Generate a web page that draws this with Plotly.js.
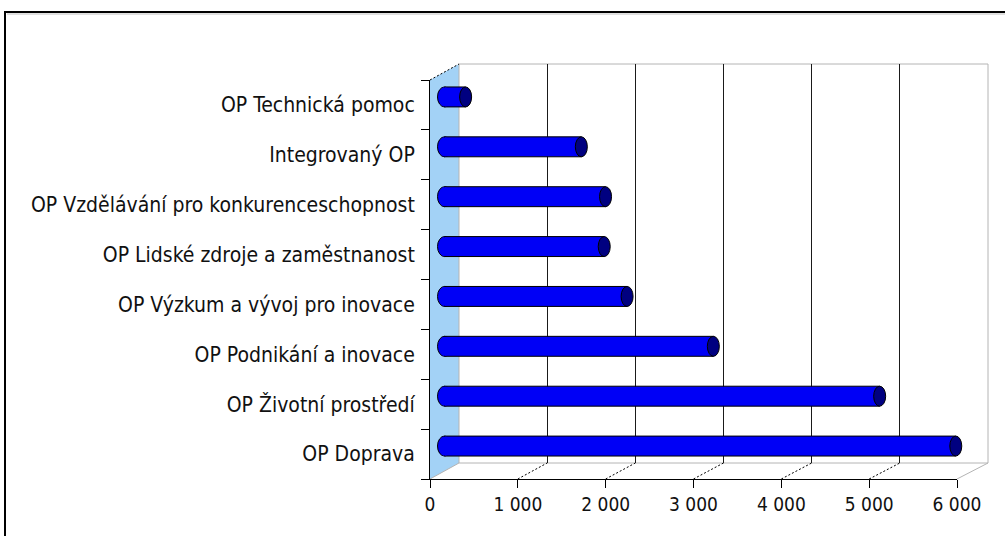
<!DOCTYPE html>
<html>
<head>
<meta charset="utf-8">
<script src="https://cdn.plot.ly/plotly-3.0.1.min.js"></script>
<style>
html,body{margin:0;padding:0;background:#fff;}
#chart{width:1005px;height:536px;}
</style>
</head>
<body>
<div id="chart"></div>
<script>
// ---- data (bottom to top, as drawn) ----
const programs = [
  "OP Doprava",
  "OP Životní prostředí",
  "OP Podnikání a inovace",
  "OP Výzkum a vývoj pro inovace",
  "OP Lidské zdroje a zaměstnanost",
  "OP Vzdělávání pro konkurenceschopnost",
  "Integrovaný OP",
  "OP Technická pomoc"
];
const allocation = [5810, 4945, 3055, 2075, 1815, 1830, 1555, 240];
const xTickVals = [0, 1000, 2000, 3000, 4000, 5000, 6000];
const xTickText = ["0", "1 000", "2 000", "3 000", "4 000", "5 000", "6 000"];
const gridVals = [1000, 2000, 3000, 4000, 5000];

// ---- geometry (pixels) ----
const W = 1005, H = 536;
const front = {l: 430, r: 957, t: 80, b: 479};
const back  = {l: 459, r: 988, t: 64, b: 463};
const mid   = {l: 444.5, r: 972.5, t: 72, b: 471};
const px = x => x / W;
const py = y => 1 - y / H;
const xMax = 6000;
const padPx = 14; // room left of zero so the rounded cylinder ends are not clipped
const padVal = padPx * xMax / (mid.r - mid.l);

const labelFont = {family: "'DejaVu Sans Condensed', 'DejaVu Sans', sans-serif", size: 21, color: "#111"};
const tickFont  = {family: "'DejaVu Sans Condensed', 'DejaVu Sans', sans-serif", size: 19, color: "#111"};

const traces = [
  {type: "scatter", x: [], y: [], xaxis: "x2", yaxis: "y2", showlegend: false, hoverinfo: "skip"},
  {type: "scatter", x: [], y: [], xaxis: "x", yaxis: "y", showlegend: false, hoverinfo: "skip"},
  {
    type: "bar", orientation: "h",
    x: allocation, y: programs,
    xaxis: "x3", yaxis: "y3",
    width: 0.4,
    marker: {color: "#0000f6", line: {color: "#000", width: 1}},
    showlegend: false, hoverinfo: "x+y"
  }
];

const shapes = [];
// side wall (light blue)
shapes.push({type: "path", xref: "paper", yref: "paper", layer: "below",
  path: `M ${px(front.l)},${py(front.t)} L ${px(back.l)},${py(back.t)} L ${px(back.l)},${py(back.b)} L ${px(front.l)},${py(front.b)} Z`,
  fillcolor: "#a3d2f6", line: {width: 0}});
// back wall edges (light gray)
const edge = {color: "#b4b4b4", width: 1};
shapes.push({type: "line", xref: "paper", yref: "paper", layer: "below", x0: px(back.l), y0: py(back.t), x1: px(back.r), y1: py(back.t), line: edge});
shapes.push({type: "line", xref: "paper", yref: "paper", layer: "below", x0: px(back.r), y0: py(back.t), x1: px(back.r), y1: py(back.b), line: edge});
shapes.push({type: "line", xref: "paper", yref: "paper", layer: "below", x0: px(back.l), y0: py(back.b), x1: px(back.r), y1: py(back.b), line: edge});
shapes.push({type: "line", xref: "paper", yref: "paper", layer: "below", x0: px(back.l), y0: py(back.t), x1: px(back.l), y1: py(back.b), line: edge});
// side wall top edge
shapes.push({type: "line", xref: "paper", yref: "paper", layer: "below",
  x0: px(front.l), y0: py(front.t), x1: px(back.l), y1: py(back.t),
  line: {color: "#000", width: 1, dash: "2px,2px"}});
// floor diagonals at each tick
xTickVals.forEach((v, i) => {
  const fx = front.l + v / xMax * (front.r - front.l);
  const bx = back.l + v / xMax * (back.r - back.l);
  const inner = i > 0 && i < xTickVals.length - 1;
  shapes.push({type: "line", xref: "paper", yref: "paper", layer: "below",
    x0: px(fx), y0: py(front.b), x1: px(bx), y1: py(back.b),
    line: inner ? {color: "#000", width: 1, dash: "2px,2px"} : edge});
});
// cylinder caps
allocation.forEach((v, i) => {
  // rounded left end (full ellipse under the bar body)
  shapes.push({type: "circle", xref: "x3", yref: "y3", layer: "between",
    xsizemode: "pixel", xanchor: 0, x0: -7, x1: 7,
    ysizemode: "pixel", yanchor: i, y0: -10, y1: 10,
    fillcolor: "#0000f6", line: {color: "#000", width: 1}});
  // cover the straight base edge of the bar body
  shapes.push({type: "path", xref: "x3", yref: "y3", layer: "above",
    xsizemode: "pixel", xanchor: 0, ysizemode: "pixel", yanchor: i,
    path: "M 2,-9.4 L -2,-9.4 L -2,9.4 L 2,9.4 Z",
    fillcolor: "#0000f6", line: {width: 0}});
  // dark right end
  shapes.push({type: "circle", xref: "x3", yref: "y3", layer: "above",
    xsizemode: "pixel", xanchor: v, x0: -6, x1: 6,
    ysizemode: "pixel", yanchor: i, y0: -10, y1: 10,
    fillcolor: "#000080", line: {color: "#000", width: 1}});
});
// outer chart frame
shapes.push({type: "rect", xref: "paper", yref: "paper",
  x0: px(5), x1: 1.05, y0: -0.05, y1: py(12),
  line: {color: "#000", width: 2}, fillcolor: "rgba(0,0,0,0)"});
shapes.push({type: "line", xref: "paper", yref: "paper",
  x0: px(7), x1: 1.05, y0: py(14), y1: py(14), line: {color: "#c0c0c0", width: 1}});

const layout = {
  width: W, height: H,
  margin: {l: 0, r: 0, t: 0, b: 0},
  paper_bgcolor: "#fff", plot_bgcolor: "rgba(0,0,0,0)",
  showlegend: false,
  xaxis: {
    domain: [px(front.l), px(front.r)], range: [0, xMax], anchor: "y",
    tickvals: xTickVals, ticktext: xTickText, tickfont: tickFont,
    ticks: "outside", ticklen: 8, tickcolor: "#000", tickwidth: 1,
    showline: true, linecolor: "#000", linewidth: 1,
    showgrid: false, zeroline: false, fixedrange: true
  },
  yaxis: {
    domain: [py(front.b), py(front.t)], anchor: "x",
    type: "category", categoryorder: "array", categoryarray: programs,
    range: [-0.5, programs.length - 0.5],
    tickson: "boundaries", ticks: "outside", ticklen: 8, tickcolor: "#000",
    tickfont: labelFont, ticklabelstandoff: 10,
    showline: true, linecolor: "#000", linewidth: 1,
    showgrid: false, zeroline: false, fixedrange: true
  },
  xaxis2: {
    domain: [px(back.l), px(back.r)], range: [0, xMax], anchor: "y2",
    tickvals: gridVals, showticklabels: false, ticks: "",
    showgrid: true, gridcolor: "#1a1a1a", gridwidth: 1,
    showline: false, zeroline: false, fixedrange: true
  },
  yaxis2: {
    domain: [py(back.b), py(back.t)], range: [0, 1], anchor: "x2",
    showgrid: false, showticklabels: false, ticks: "", showline: false, zeroline: false, fixedrange: true
  },
  xaxis3: {
    domain: [px(mid.l - padPx), px(mid.r)], range: [-padVal, xMax], anchor: "y3",
    visible: false, fixedrange: true
  },
  yaxis3: {
    domain: [py(mid.b), py(mid.t)], anchor: "x3",
    type: "category", categoryorder: "array", categoryarray: programs,
    range: [-0.5, programs.length - 0.5],
    visible: false, fixedrange: true
  },
  shapes: shapes
};

Plotly.newPlot("chart", traces, layout, {displayModeBar: false, staticPlot: true});
</script>
</body>
</html>
